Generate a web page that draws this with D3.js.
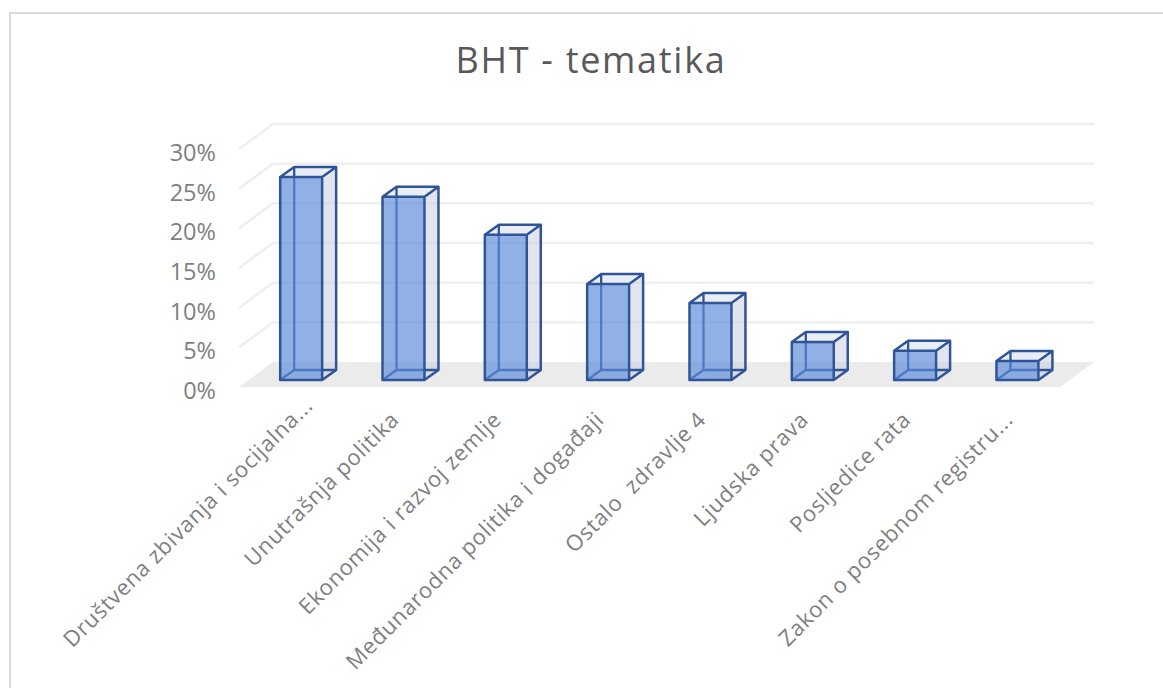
<!DOCTYPE html>
<html>
<head>
<meta charset="utf-8">
<script src="https://cdn.jsdelivr.net/npm/d3@7"></script>
<style>
html, body { margin: 0; padding: 0; background: #fff; }
svg { display: block; font-family: "Open Sans", sans-serif; }
</style>
</head>
<body>
<svg width="1163" height="688"></svg>
<script>
var categories = ["Društvena zbivanja i socijalna...", "Unutrašnja politika", "Ekonomija i razvoj zemlje",
    "Međunarodna politika i događaji", "Ostalo  zdravlje 4", "Ljudska prava", "Posljedice rata", "Zakon o posebnom registru..."];
var values = [0.256, 0.231, 0.183, 0.121, 0.097, 0.048, 0.037, 0.024];
var yTicks = [0, 0.05, 0.10, 0.15, 0.20, 0.25, 0.30];

var svg = d3.select("svg");

// frame of the chart
svg.append("path")
    .attr("d", "M10,688V13H1163")
    .attr("fill", "none")
    .attr("stroke", "#d9d9d9")
    .attr("stroke-width", 2);

svg.append("text")
    .attr("x", 591)
    .attr("y", 73)
    .attr("text-anchor", "middle")
    .attr("font-size", 36)
    .attr("letter-spacing", 1.7)
    .attr("fill", "#595959")
    .text("BHT - tematika");

// y measured on the front edge of the floor, the walls sit back by (34,-25)
var y = d3.scaleLinear().domain([0, 0.30]).range([387, 149]);
var depth = {x: 34, y: -25};

var x = d3.scaleBand().domain(categories).range([250, 1068.6]).paddingInner(0.59).paddingOuter(0.295);
var barDepth = {x: 14, y: -10};
var barLift = 7;

var line = d3.line();

// floor
svg.append("path")
    .attr("d", line([[239, y(0)], [239 + depth.x, y(0) + depth.y], [1094, y(0) + depth.y], [1060, y(0)]]) + "Z")
    .attr("fill", "#ebebeb");

// grid on side and back wall
yTicks.slice(1).forEach(function(t) {
    svg.append("path")
        .attr("d", line([[239, y(t)], [239 + depth.x, y(t) + depth.y], [1094, y(t) + depth.y]]))
        .attr("fill", "none")
        .attr("stroke", "#efefef")
        .attr("stroke-width", 2.5);
});

svg.selectAll(".ytick")
    .data(yTicks)
    .enter().append("text")
    .attr("class", "ytick")
    .attr("x", 216)
    .attr("y", function(d) { return y(d) + 12; })
    .attr("text-anchor", "end")
    .attr("font-size", 23.5)
    .attr("fill", "#7f7f7f")
    .text(d3.format(".0%"));

var bars = svg.selectAll(".bar")
    .data(categories.map(function(c, i) { return {name: c, value: values[i]}; }))
    .enter().append("g")
    .attr("class", "bar");

var baseY = y(0) - barLift;
function topY(d) { return baseY - (y(0) - y(d.value)); }
function x0(d) { return x(d.name); }
function x1(d) { return x(d.name) + x.bandwidth(); }

// right side, see through
bars.append("path")
    .attr("d", function(d) {
        return line([[x1(d), baseY], [x1(d) + barDepth.x, baseY + barDepth.y], [x1(d) + barDepth.x, topY(d) + barDepth.y], [x1(d), topY(d)]]) + "Z";
    })
    .attr("fill", "#c5cce0")
    .attr("fill-opacity", 0.5);

// top
bars.append("path")
    .attr("d", function(d) {
        return line([[x0(d), topY(d)], [x0(d) + barDepth.x, topY(d) + barDepth.y], [x1(d) + barDepth.x, topY(d) + barDepth.y], [x1(d), topY(d)]]) + "Z";
    })
    .attr("fill", "#e9edf5");

// edges at the back show through the front
bars.append("path")
    .attr("d", function(d) {
        var bx = x0(d) + barDepth.x, by = baseY + barDepth.y;
        return "M" + bx + "," + (topY(d) + barDepth.y) + "V" + by + "H" + (x1(d) + barDepth.x) + "M" + bx + "," + by + "L" + x0(d) + "," + baseY;
    })
    .attr("fill", "none")
    .attr("stroke", "#2f5597")
    .attr("stroke-width", 2.3);

// front
bars.append("rect")
    .attr("x", x0)
    .attr("y", topY)
    .attr("width", x.bandwidth())
    .attr("height", function(d) { return baseY - topY(d); })
    .attr("fill", "#5b8ada")
    .attr("fill-opacity", 0.68);

// outline
bars.append("path")
    .attr("d", function(d) {
        var t = topY(d);
        return line([[x0(d), baseY], [x0(d), t], [x1(d), t], [x1(d), baseY]]) + "Z" +
            line([[x0(d), t], [x0(d) + barDepth.x, t + barDepth.y], [x1(d) + barDepth.x, t + barDepth.y], [x1(d) + barDepth.x, baseY + barDepth.y], [x1(d), baseY]]) +
            line([[x1(d), t], [x1(d) + barDepth.x, t + barDepth.y]]);
    })
    .attr("fill", "none")
    .attr("stroke", "#2f5597")
    .attr("stroke-width", 2.5)
    .attr("stroke-linejoin", "round");

// category labels, the first one sits further up the slope in the original
svg.selectAll(".xlabel")
    .data(categories)
    .enter().append("text")
    .attr("class", "xlabel")
    .attr("transform", function(d, i) {
        var lx = x(d) + x.bandwidth() / 2 + (i === 0 ? 13 : -3);
        var ly = i === 0 ? 407 : 421;
        return "translate(" + lx + "," + ly + ") rotate(-45)";
    })
    .attr("text-anchor", "end")
    .attr("font-size", 22)
    .attr("letter-spacing", 0.7)
    .attr("fill", "#7f7f7f")
    .attr("xml:space", "preserve")
    .text(function(d) { return d; });
</script>
</body>
</html>
